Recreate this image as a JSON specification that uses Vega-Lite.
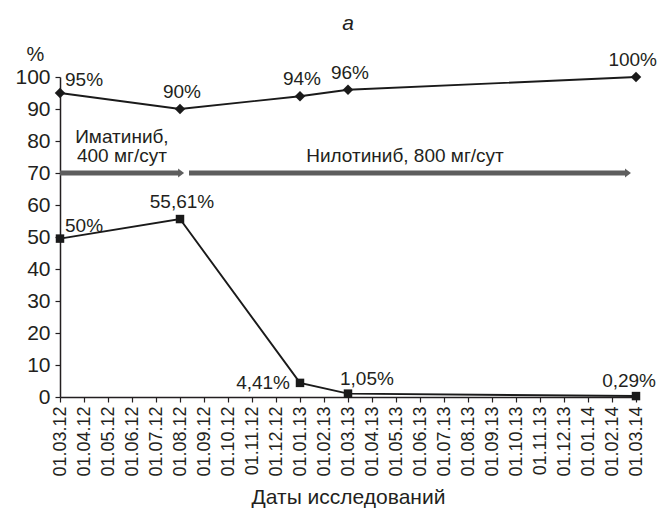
{
  "$schema": "https://vega.github.io/schema/vega-lite/v6.json",
  "autosize": {"type": "none"},
  "width": 576,
  "height": 320,
  "padding": {"left": 60, "top": 77, "right": 24, "bottom": 115},
  "background": "white",
  "config": {
    "view": {"stroke": null},
    "font": "Liberation Sans",
    "text": {"font": "Liberation Sans", "color": "#231f20"},
    "axis": {"labelFont": "Liberation Sans", "titleFont": "Liberation Sans", "labelColor": "#231f20", "titleColor": "#231f20", "domainColor": "#231f20", "tickColor": "#231f20", "grid": false, "domainWidth": 1.5, "tickWidth": 1.2}
  },
  "title": {"text": "а", "font": "Liberation Sans", "fontSize": 21, "fontStyle": "italic", "fontWeight": "normal", "color": "#231f20", "anchor": "middle", "frame": "group", "baseline": "alphabetic", "offset": -7},
  "datasets": {
    "series": [
      {"m": 0, "value": 95, "series": "upper", "label": "95%"},
      {"m": 5, "value": 90, "series": "upper", "label": "90%"},
      {"m": 10, "value": 94, "series": "upper", "label": "94%"},
      {"m": 12, "value": 96, "series": "upper", "label": "96%"},
      {"m": 24, "value": 100, "series": "upper", "label": "100%"},
      {"m": 0, "value": 49.5, "series": "lower", "label": "50%"},
      {"m": 5, "value": 55.61, "series": "lower", "label": "55,61%"},
      {"m": 10, "value": 4.41, "series": "lower", "label": "4,41%"},
      {"m": 12, "value": 1.05, "series": "lower", "label": "1,05%"},
      {"m": 24, "value": 0.29, "series": "lower", "label": "0,29%"}
    ],
    "arrows": [
      {"m": 0, "m2": 5.17, "value": 70},
      {"m": 5.375, "m2": 23.79, "value": 70}
    ],
    "heads": [
      {"m": 5.17, "value": 70},
      {"m": 23.79, "value": 70}
    ],
    "notes": [
      {"m": 2.58, "value": 79.4, "text": "Иматиниб,"},
      {"m": 2.58, "value": 73.4, "text": "400 мг/сут"},
      {"m": 14.375, "value": 73.4, "text": "Нилотиниб, 800 мг/сут"}
    ]
  },
  "encoding": {
    "x": {"field": "m", "type": "quantitative", "scale": {"domain": [0, 24], "nice": false, "zero": false},
      "axis": {"values": [0,1,2,3,4,5,6,7,8,9,10,11,12,13,14,15,16,17,18,19,20,21,22,23,24],
        "labelExpr": "'01.' + ((((datum.value + 2) % 12) + 1) < 10 ? '0' : '') + (((datum.value + 2) % 12) + 1) + '.' + (12 + floor((datum.value + 2) / 12))",
        "labelAngle": 270, "labelAlign": "right", "labelBaseline": "middle", "labelFontSize": 18, "labelPadding": 4, "tickSize": 5,
        "title": "Даты исследований", "titleFontSize": 21, "titleFontWeight": "normal", "titlePadding": 10, "labelOverlap": false, "labelFlush": false}},
    "y": {"field": "value", "type": "quantitative", "scale": {"domain": [0, 100], "nice": false},
      "axis": {"values": [0,10,20,30,40,50,60,70,80,90,100], "labelFontSize": 21, "tickSize": 5, "labelPadding": 5, "labelOverlap": false,
        "title": "%", "titleAngle": 0, "titleFontSize": 20, "titleFontWeight": "normal", "titleAlign": "center", "titleBaseline": "alphabetic", "titleX": -25, "titleY": -17}}
  },
  "layer": [
    {
      "data": {"name": "arrows"},
      "mark": {"type": "rule", "color": "#5e5e5e", "strokeWidth": 5, "strokeCap": "butt", "x2Offset": -4},
      "encoding": {
        "x2": {"field": "m2"}
      }
    },
    {
      "data": {"name": "heads"},
      "mark": {"type": "point", "shape": "M-1.33,-1L0,0L-1.33,1Z", "size": 81, "filled": true, "color": "#5e5e5e", "opacity": 1},
      "encoding": {}
    },
    {
      "data": {"name": "series"},
      "mark": {"type": "line", "color": "#1a1a1a", "strokeWidth": 1.9},
      "encoding": {
        "detail": {"field": "series"}
      }
    },
    {
      "data": {"name": "series"},
      "mark": {"type": "point", "filled": true, "opacity": 1, "color": "#1a1a1a"},
      "encoding": {
        "shape": {"field": "series", "type": "nominal", "scale": {"domain": ["upper", "lower"], "range": ["diamond", "square"]}, "legend": null},
        "size": {"field": "series", "type": "nominal", "scale": {"domain": ["upper", "lower"], "range": [110, 72]}, "legend": null}
      }
    },
    {
      "data": {"name": "series"},
      "transform": [{"filter": "indexof(['95%', '50%'], datum.label) >= 0"}],
      "mark": {"type": "text", "align": "left", "baseline": "alphabetic", "dx": 5, "dy": -7, "fontSize": 19},
      "encoding": {"text": {"field": "label"}}
    },
    {
      "data": {"name": "series"},
      "transform": [{"filter": "indexof(['90%', '94%', '96%', '55,61%'], datum.label) >= 0"}],
      "mark": {"type": "text", "align": "center", "baseline": "alphabetic", "dx": 2, "dy": -11, "fontSize": 19},
      "encoding": {"text": {"field": "label"}}
    },
    {
      "data": {"name": "series"},
      "transform": [{"filter": "datum.label == '100%'"}],
      "mark": {"type": "text", "align": "right", "baseline": "alphabetic", "dx": 21, "dy": -11, "fontSize": 19},
      "encoding": {"text": {"field": "label"}}
    },
    {
      "data": {"name": "series"},
      "transform": [{"filter": "datum.label == '4,41%'"}],
      "mark": {"type": "text", "align": "right", "baseline": "middle", "dx": -10, "dy": 0, "fontSize": 19},
      "encoding": {"text": {"field": "label"}}
    },
    {
      "data": {"name": "series"},
      "transform": [{"filter": "datum.label == '1,05%'"}],
      "mark": {"type": "text", "align": "left", "baseline": "alphabetic", "dx": -8, "dy": -9, "fontSize": 19},
      "encoding": {"text": {"field": "label"}}
    },
    {
      "data": {"name": "series"},
      "transform": [{"filter": "datum.label == '0,29%'"}],
      "mark": {"type": "text", "align": "right", "baseline": "alphabetic", "dx": 20, "dy": -9, "fontSize": 19},
      "encoding": {"text": {"field": "label"}}
    },
    {
      "data": {"name": "notes"},
      "mark": {"type": "text", "align": "center", "baseline": "alphabetic", "fontSize": 19},
      "encoding": {"text": {"field": "text"}}
    }
  ]
}
